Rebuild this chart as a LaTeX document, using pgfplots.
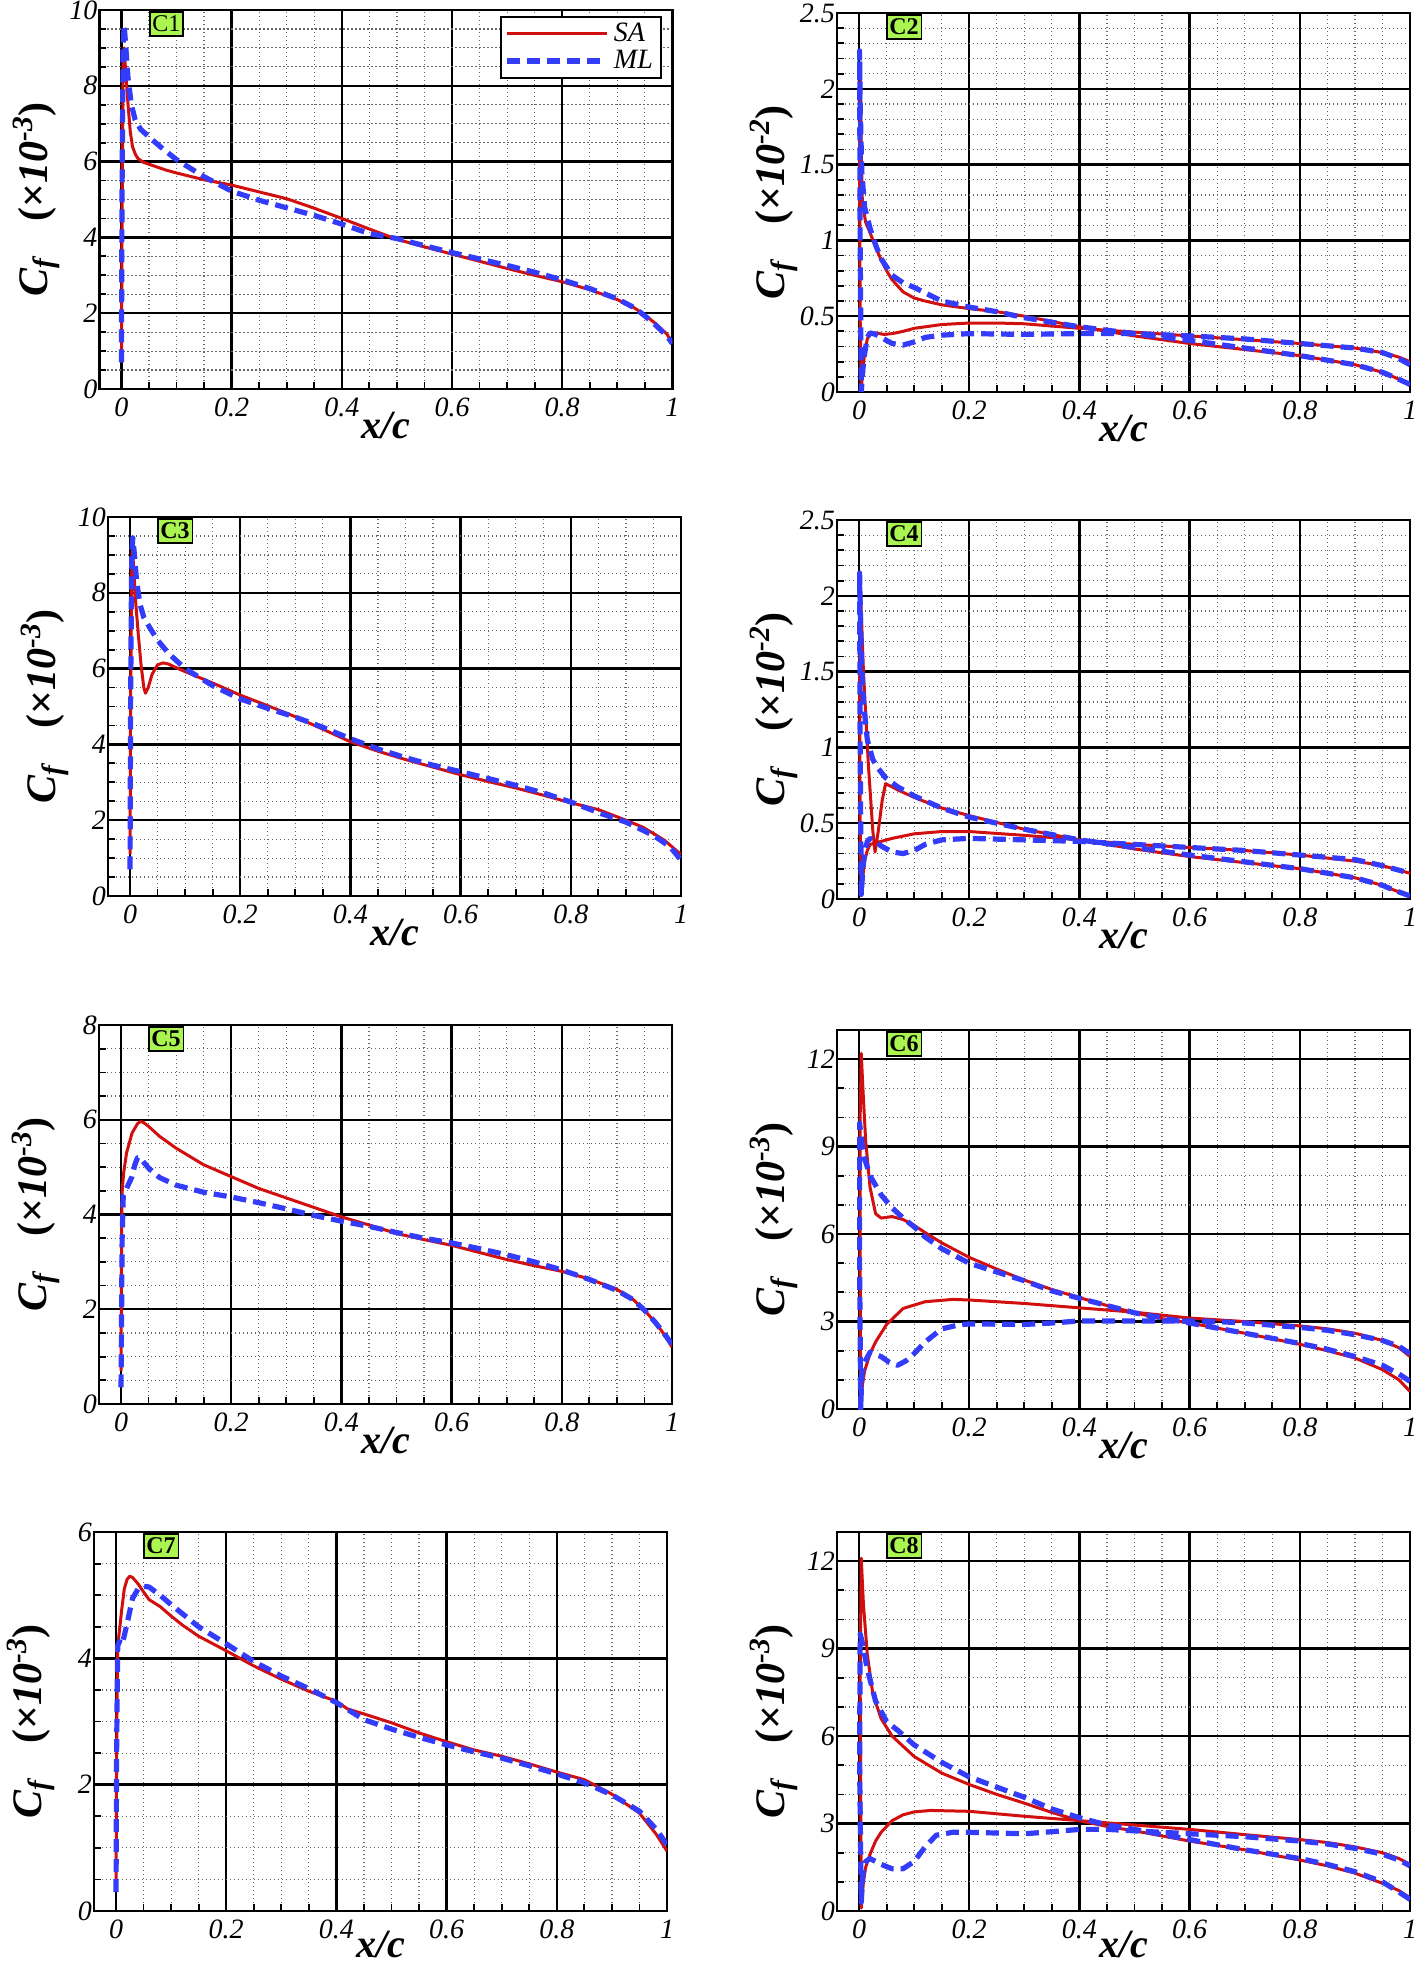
\documentclass[border=0pt]{standalone}
\usepackage{pgfplots}
\pgfplotsset{compat=1.18}
\usepackage{fontspec}
\setmainfont{Liberation Serif}[BoldFont={Liberation Serif Bold}, ItalicFont={Liberation Serif Italic}, BoldItalicFont={Liberation Serif Bold Italic}]
\definecolor{sared}{RGB}{210,15,15}
\definecolor{mlblue}{RGB}{50,60,250}
\definecolor{labgreen}{RGB}{170,245,80}
\newcommand{\cflab}[1]{\textbf{\textit{C}\textsubscript{\textit{f}}\hspace{0.8em}(×\textit{10}\textsuperscript{\textit{#1}})}}
\tikzset{clab/.style={draw=black, line width=0.8pt, fill=labgreen, font=\fontsize{12}{12}\selectfont\bfseries, inner xsep=1.3pt, inner ysep=2pt}}
\pgfplotsset{
 cfaxis/.style={
  scale only axis, width=286.5pt, height=189.5pt,
  xmin=-0.04, xmax=1, ymin=0,
  xtick={0,0.2,0.4,0.6,0.8,1}, xticklabels={0,0.2,0.4,0.6,0.8,1},
  minor x tick num=3,
  grid=both,
  major grid style={black, line width=1.2pt},
  minor grid style={black!60, line width=0.6pt, dash pattern=on 0.6pt off 1.4pt},
  axis line style={black, line width=1.4pt},
  tick align=inside, tick pos=left,
  major tick length=3pt, minor tick length=3.5pt,
  tick style={black, line width=0.9pt},
  tick label style={font=\itshape\fontsize{14}{14}\selectfont},
  yticklabel style={xshift=2.5pt},
  xticklabel style={yshift=-1pt},
  xlabel={\textbf{\textit{x/c}}},
  xlabel style={font=\fontsize{20}{20}\selectfont, at={(axis description cs:0.5,-0.096)}, anchor=center},
  ylabel style={font=\fontsize{21}{21}\selectfont, at={(axis description cs:-0.11,0.5)}, anchor=center},
  legend image code/.code={\draw[##1] (0pt,0pt) -- (50pt,0pt);},
 },
 sa/.style={sared, line width=1.5pt, line join=round},
 ml/.style={mlblue, line width=2.6pt, dash pattern=on 6.5pt off 3.5pt, line join=round},
}
\begin{document}
\begin{tikzpicture}
\path[use as bounding box] (0,0) rectangle (709pt,-981.5pt);

% ---------------- C1
\begin{axis}[cfaxis, at={(49.7pt,-194.5pt)}, anchor=south west,
  ymax=10, ytick={0,2,4,6,8,10}, yticklabels={0,2,4,6,8,10}, minor y tick num=3,
  ylabel={\cflab{-3}},
  legend style={at={(rel axis cs:0.982,0.985)}, anchor=north east, draw=black, line width=1.2pt,
    font=\itshape\fontsize{14}{14}\selectfont, inner xsep=2pt, inner ysep=1pt, row sep=-1pt, cells={anchor=west}}]
\addplot[sa] coordinates {(0,0.7)(0.001,4.0)(0.003,8.5)(0.005,9.0)(0.008,8.3)(0.012,7.5)(0.016,6.8)(0.02,6.4)(0.025,6.2)(0.03,6.08)(0.04,5.98)(0.06,5.88)(0.08,5.78)(0.1,5.7)(0.15,5.52)(0.2,5.38)(0.25,5.2)(0.3,5.02)(0.35,4.77)(0.4,4.5)(0.45,4.22)(0.5,3.95)(0.55,3.75)(0.6,3.56)(0.65,3.37)(0.7,3.18)(0.75,3.0)(0.8,2.83)(0.85,2.62)(0.9,2.36)(0.93,2.15)(0.95,1.95)(0.97,1.72)(0.99,1.45)(1.0,1.2)};
\addlegendentry{SA}
\addplot[ml] coordinates {(0,0.7)(0.001,5.0)(0.003,9.0)(0.005,9.6)(0.008,9.0)(0.012,8.2)(0.018,7.5)(0.025,7.1)(0.035,6.85)(0.05,6.65)(0.07,6.4)(0.1,6.05)(0.15,5.6)(0.2,5.22)(0.25,4.98)(0.3,4.78)(0.35,4.58)(0.4,4.35)(0.45,4.1)(0.48,4.02)(0.5,3.97)(0.55,3.78)(0.6,3.6)(0.65,3.43)(0.7,3.26)(0.75,3.08)(0.8,2.88)(0.85,2.65)(0.9,2.38)(0.93,2.15)(0.95,1.93)(0.97,1.68)(0.99,1.4)(1.0,1.2)};
\addlegendentry{ML}
\node[clab, font=\fontsize{12}{12}\selectfont] at (rel axis cs:0.117,0.963) {C1};
\end{axis}

% ---------------- C2
\begin{axis}[cfaxis, at={(418.5pt,-196pt)}, anchor=south west,
  ymax=2.5, ytick={0,0.5,1,1.5,2,2.5}, yticklabels={0,0.5,1,1.5,2,2.5}, minor y tick num=4,
  ylabel={\cflab{-2}}]
\addplot[sa] coordinates {(1.0,0.05)(0.97,0.1)(0.95,0.13)(0.9,0.18)(0.85,0.21)(0.8,0.24)(0.7,0.28)(0.6,0.32)(0.5,0.37)(0.4,0.43)(0.3,0.5)(0.25,0.53)(0.2,0.55)(0.15,0.575)(0.12,0.6)(0.1,0.62)(0.08,0.66)(0.06,0.74)(0.05,0.8)(0.04,0.87)(0.03,0.96)(0.02,1.05)(0.012,1.12)(0.006,1.25)(0.004,1.6)(0.002,2.15)(0.001,1.5)(0.002,0.5)(0.004,0.02)(0.007,0.15)(0.01,0.25)(0.015,0.35)(0.02,0.39)(0.03,0.39)(0.045,0.38)(0.06,0.385)(0.08,0.4)(0.1,0.42)(0.15,0.445)(0.2,0.455)(0.25,0.455)(0.3,0.45)(0.35,0.435)(0.4,0.42)(0.5,0.395)(0.6,0.37)(0.7,0.345)(0.8,0.32)(0.9,0.29)(0.95,0.26)(0.98,0.23)(1.0,0.2)};
\addplot[ml] coordinates {(1.0,0.05)(0.97,0.1)(0.95,0.13)(0.9,0.18)(0.8,0.24)(0.7,0.29)(0.6,0.34)(0.5,0.385)(0.4,0.43)(0.35,0.46)(0.3,0.49)(0.25,0.53)(0.2,0.56)(0.15,0.6)(0.1,0.69)(0.08,0.72)(0.06,0.77)(0.04,0.88)(0.03,0.97)(0.02,1.08)(0.01,1.22)(0.005,1.45)(0.002,1.9)(0.001,2.25)(0.002,1.0)(0.004,0.0)(0.007,0.15)(0.01,0.25)(0.015,0.36)(0.02,0.39)(0.03,0.38)(0.04,0.36)(0.06,0.32)(0.08,0.31)(0.1,0.33)(0.12,0.36)(0.15,0.375)(0.2,0.385)(0.3,0.38)(0.4,0.385)(0.5,0.385)(0.6,0.37)(0.7,0.35)(0.8,0.32)(0.9,0.29)(0.95,0.26)(0.98,0.22)(1.0,0.18)};
\node[clab] at (rel axis cs:0.117,0.963) {C2};
\end{axis}

% ---------------- C3
\begin{axis}[cfaxis, at={(54pt,-448pt)}, anchor=south west,
  ymax=10, ytick={0,2,4,6,8,10}, yticklabels={0,2,4,6,8,10}, minor y tick num=3,
  ylabel={\cflab{-3}}]
\addplot[sa] coordinates {(0,1.1)(0.001,5)(0.003,8.5)(0.004,9.2)(0.006,8.8)(0.01,7.8)(0.015,6.9)(0.02,6.1)(0.025,5.5)(0.028,5.35)(0.033,5.5)(0.04,5.85)(0.05,6.1)(0.06,6.15)(0.07,6.12)(0.08,6.05)(0.1,5.92)(0.15,5.62)(0.2,5.3)(0.25,5.02)(0.3,4.73)(0.35,4.4)(0.4,4.07)(0.45,3.82)(0.5,3.6)(0.55,3.4)(0.6,3.2)(0.65,3.02)(0.7,2.85)(0.75,2.66)(0.8,2.46)(0.85,2.28)(0.9,2.0)(0.93,1.82)(0.95,1.65)(0.97,1.47)(0.99,1.22)(1.0,1.1)};
\addplot[ml] coordinates {(0,0.7)(0.001,5)(0.003,9.0)(0.005,9.45)(0.008,9.0)(0.012,8.3)(0.018,7.7)(0.025,7.35)(0.035,7.1)(0.05,6.75)(0.07,6.4)(0.1,6.0)(0.15,5.55)(0.2,5.2)(0.25,4.95)(0.3,4.72)(0.35,4.45)(0.4,4.15)(0.45,3.88)(0.5,3.65)(0.55,3.45)(0.6,3.28)(0.65,3.1)(0.7,2.92)(0.75,2.72)(0.8,2.48)(0.85,2.2)(0.9,1.95)(0.95,1.6)(0.98,1.3)(1.0,0.95)};
\node[clab] at (rel axis cs:0.117,0.963) {C3};
\end{axis}

% ---------------- C4
\begin{axis}[cfaxis, at={(418.5pt,-449.5pt)}, anchor=south west,
  ymax=2.5, ytick={0,0.5,1,1.5,2,2.5}, yticklabels={0,0.5,1,1.5,2,2.5}, minor y tick num=4,
  ylabel={\cflab{-2}}]
\addplot[sa] coordinates {(1.0,0.02)(0.97,0.06)(0.95,0.09)(0.9,0.14)(0.8,0.2)(0.7,0.24)(0.6,0.28)(0.5,0.33)(0.4,0.39)(0.3,0.46)(0.2,0.55)(0.15,0.6)(0.1,0.67)(0.07,0.72)(0.06,0.74)(0.048,0.76)(0.042,0.65)(0.035,0.45)(0.029,0.31)(0.025,0.45)(0.017,0.88)(0.008,1.5)(0.003,2.0)(0.001,1.5)(0.002,0.5)(0.004,0.03)(0.007,0.15)(0.01,0.25)(0.015,0.32)(0.02,0.36)(0.03,0.37)(0.04,0.38)(0.06,0.4)(0.1,0.43)(0.15,0.445)(0.2,0.445)(0.3,0.42)(0.4,0.39)(0.5,0.36)(0.6,0.34)(0.7,0.32)(0.8,0.29)(0.9,0.25)(0.95,0.22)(1.0,0.17)};
\addplot[ml] coordinates {(1.0,0.02)(0.97,0.06)(0.95,0.09)(0.9,0.14)(0.8,0.2)(0.7,0.245)(0.6,0.29)(0.5,0.34)(0.4,0.39)(0.3,0.46)(0.2,0.54)(0.15,0.6)(0.1,0.68)(0.07,0.74)(0.048,0.8)(0.033,0.87)(0.025,0.92)(0.015,1.05)(0.008,1.3)(0.004,1.6)(0.001,2.15)(0.002,1.0)(0.004,0.03)(0.007,0.2)(0.01,0.3)(0.015,0.38)(0.02,0.4)(0.03,0.38)(0.04,0.35)(0.06,0.31)(0.08,0.3)(0.1,0.32)(0.12,0.36)(0.15,0.39)(0.2,0.4)(0.3,0.39)(0.4,0.38)(0.5,0.36)(0.6,0.34)(0.7,0.32)(0.8,0.29)(0.9,0.26)(0.95,0.22)(1.0,0.17)};
\node[clab] at (rel axis cs:0.117,0.963) {C4};
\end{axis}

% ---------------- C5
\begin{axis}[cfaxis, at={(49.5pt,-702pt)}, anchor=south west,
  ymax=8, ytick={0,2,4,6,8}, yticklabels={0,2,4,6,8}, minor y tick num=3,
  ylabel={\cflab{-3}}]
\addplot[sa] coordinates {(0,0.7)(0.001,3.5)(0.002,4.5)(0.005,4.9)(0.01,5.3)(0.02,5.72)(0.03,5.92)(0.035,5.96)(0.04,5.95)(0.05,5.86)(0.07,5.65)(0.1,5.4)(0.15,5.05)(0.2,4.8)(0.25,4.55)(0.3,4.35)(0.35,4.15)(0.4,3.95)(0.45,3.78)(0.5,3.6)(0.55,3.47)(0.6,3.35)(0.65,3.2)(0.7,3.05)(0.75,2.92)(0.8,2.8)(0.85,2.64)(0.9,2.42)(0.93,2.2)(0.95,1.98)(0.97,1.72)(0.99,1.4)(1.0,1.2)};
\addplot[ml] coordinates {(0,0.35)(0.002,3.5)(0.004,4.4)(0.01,4.55)(0.02,4.8)(0.025,5.05)(0.03,5.2)(0.035,5.2)(0.04,5.12)(0.05,4.98)(0.07,4.78)(0.1,4.62)(0.15,4.47)(0.2,4.37)(0.25,4.25)(0.3,4.12)(0.35,3.98)(0.4,3.86)(0.45,3.75)(0.5,3.62)(0.55,3.5)(0.6,3.4)(0.65,3.28)(0.7,3.15)(0.75,3.0)(0.8,2.83)(0.85,2.63)(0.9,2.4)(0.93,2.2)(0.95,1.98)(0.97,1.72)(0.99,1.42)(1.0,1.25)};
\node[clab] at (rel axis cs:0.117,0.963) {C5};
\end{axis}

% ---------------- C6
\begin{axis}[cfaxis, at={(418.5pt,-704.5pt)}, anchor=south west,
  ymax=13, ytick={0,3,6,9,12}, yticklabels={0,3,6,9,12}, minor y tick num=2,
  ylabel={\cflab{-3}}]
\addplot[sa] coordinates {(1.0,0.6)(0.98,1.0)(0.95,1.35)(0.9,1.75)(0.85,2.0)(0.8,2.22)(0.7,2.6)(0.6,2.95)(0.55,3.1)(0.5,3.3)(0.45,3.55)(0.4,3.82)(0.35,4.1)(0.3,4.42)(0.25,4.8)(0.2,5.2)(0.15,5.7)(0.12,6.05)(0.1,6.3)(0.08,6.5)(0.06,6.6)(0.04,6.55)(0.03,6.7)(0.02,7.6)(0.012,9.2)(0.007,11)(0.004,12.2)(0.002,10)(0.002,5)(0.003,0.1)(0.006,0.8)(0.01,1.3)(0.02,1.9)(0.03,2.3)(0.05,2.9)(0.08,3.45)(0.12,3.68)(0.17,3.76)(0.2,3.74)(0.3,3.62)(0.4,3.47)(0.5,3.32)(0.6,3.12)(0.7,3.0)(0.8,2.85)(0.85,2.75)(0.9,2.6)(0.95,2.35)(0.98,2.1)(1.0,1.8)};
\addplot[ml] coordinates {(1.0,0.95)(0.98,1.2)(0.95,1.5)(0.9,1.8)(0.85,2.05)(0.8,2.25)(0.7,2.6)(0.6,2.95)(0.5,3.3)(0.45,3.55)(0.4,3.8)(0.35,4.05)(0.3,4.4)(0.25,4.7)(0.2,5.0)(0.15,5.5)(0.12,5.9)(0.1,6.25)(0.08,6.55)(0.06,6.9)(0.04,7.35)(0.02,8.0)(0.01,8.6)(0.004,9.3)(0.001,9.8)(0.001,5)(0.003,0.0)(0.005,1.2)(0.01,1.6)(0.02,1.95)(0.04,1.8)(0.055,1.6)(0.07,1.5)(0.085,1.65)(0.1,1.9)(0.12,2.3)(0.15,2.75)(0.18,2.88)(0.2,2.92)(0.3,2.9)(0.35,2.95)(0.4,3.02)(0.5,3.02)(0.6,3.02)(0.65,3.0)(0.7,2.95)(0.8,2.8)(0.85,2.7)(0.9,2.55)(0.95,2.35)(0.98,2.15)(1.0,1.9)};
\node[clab] at (rel axis cs:0.117,0.963) {C6};
\end{axis}

% ---------------- C7
\begin{axis}[cfaxis, at={(47pt,-955.5pt)}, anchor=south west,
  ymax=6, ytick={0,2,4,6}, yticklabels={0,2,4,6}, minor y tick num=3,
  ylabel={\cflab{-3}}, xlabel style={at={(axis description cs:0.5,-0.088)}}]
\addplot[sa] coordinates {(0,0.3)(0.001,2.5)(0.003,4.2)(0.007,4.5)(0.01,4.75)(0.015,5.1)(0.02,5.25)(0.025,5.3)(0.03,5.28)(0.04,5.18)(0.05,5.05)(0.06,4.93)(0.08,4.82)(0.1,4.67)(0.12,4.53)(0.15,4.35)(0.2,4.12)(0.25,3.88)(0.3,3.67)(0.35,3.48)(0.4,3.32)(0.42,3.2)(0.45,3.12)(0.5,2.98)(0.55,2.82)(0.6,2.68)(0.65,2.55)(0.7,2.45)(0.75,2.33)(0.8,2.2)(0.85,2.08)(0.9,1.85)(0.95,1.55)(0.98,1.22)(1.0,0.95)};
\addplot[ml] coordinates {(0,0.3)(0.001,2.5)(0.003,4.2)(0.008,4.3)(0.012,4.25)(0.02,4.55)(0.03,4.95)(0.04,5.1)(0.05,5.14)(0.06,5.13)(0.08,5.0)(0.1,4.85)(0.15,4.5)(0.2,4.23)(0.25,3.95)(0.3,3.72)(0.35,3.52)(0.4,3.3)(0.45,3.03)(0.5,2.88)(0.55,2.75)(0.6,2.63)(0.65,2.52)(0.7,2.42)(0.75,2.3)(0.8,2.17)(0.85,2.03)(0.9,1.84)(0.95,1.58)(0.98,1.3)(1.0,1.05)};
\node[clab] at (rel axis cs:0.117,0.963) {C7};
\end{axis}

% ---------------- C8
\begin{axis}[cfaxis, at={(418.5pt,-955.5pt)}, anchor=south west,
  ymax=13, ytick={0,3,6,9,12}, yticklabels={0,3,6,9,12}, minor y tick num=2,
  ylabel={\cflab{-3}}, xlabel style={at={(axis description cs:0.5,-0.088)}}]
\addplot[sa] coordinates {(1.0,0.45)(0.98,0.7)(0.95,0.95)(0.9,1.3)(0.85,1.55)(0.8,1.75)(0.7,2.1)(0.6,2.4)(0.5,2.75)(0.45,2.9)(0.4,3.1)(0.35,3.38)(0.3,3.7)(0.25,4.0)(0.2,4.34)(0.15,4.73)(0.1,5.3)(0.06,6.0)(0.04,6.6)(0.025,7.45)(0.015,8.8)(0.008,10.5)(0.004,12.1)(0.002,8)(0.004,0.1)(0.008,1.0)(0.012,1.5)(0.02,1.95)(0.03,2.4)(0.04,2.7)(0.06,3.1)(0.08,3.3)(0.1,3.4)(0.13,3.45)(0.2,3.42)(0.3,3.25)(0.4,3.1)(0.5,2.95)(0.6,2.8)(0.7,2.62)(0.8,2.45)(0.85,2.35)(0.9,2.2)(0.95,2.0)(0.98,1.8)(1.0,1.6)};
\addplot[ml] coordinates {(1.0,0.4)(0.98,0.65)(0.95,1.0)(0.9,1.35)(0.85,1.6)(0.8,1.8)(0.7,2.1)(0.6,2.45)(0.5,2.8)(0.45,2.95)(0.4,3.2)(0.35,3.5)(0.3,3.9)(0.25,4.25)(0.2,4.6)(0.15,5.1)(0.1,5.7)(0.07,6.2)(0.05,6.5)(0.03,7.2)(0.015,8.3)(0.006,9.2)(0.002,9.5)(0.001,5)(0.004,0.3)(0.007,1.3)(0.012,1.7)(0.02,1.8)(0.04,1.6)(0.06,1.45)(0.08,1.45)(0.1,1.7)(0.12,2.2)(0.14,2.6)(0.17,2.7)(0.2,2.7)(0.3,2.65)(0.35,2.72)(0.4,2.8)(0.45,2.8)(0.5,2.75)(0.6,2.65)(0.7,2.55)(0.8,2.4)(0.85,2.3)(0.9,2.15)(0.95,1.95)(0.98,1.75)(1.0,1.55)};
\node[clab] at (rel axis cs:0.117,0.963) {C8};
\end{axis}
\end{tikzpicture}
\end{document}
